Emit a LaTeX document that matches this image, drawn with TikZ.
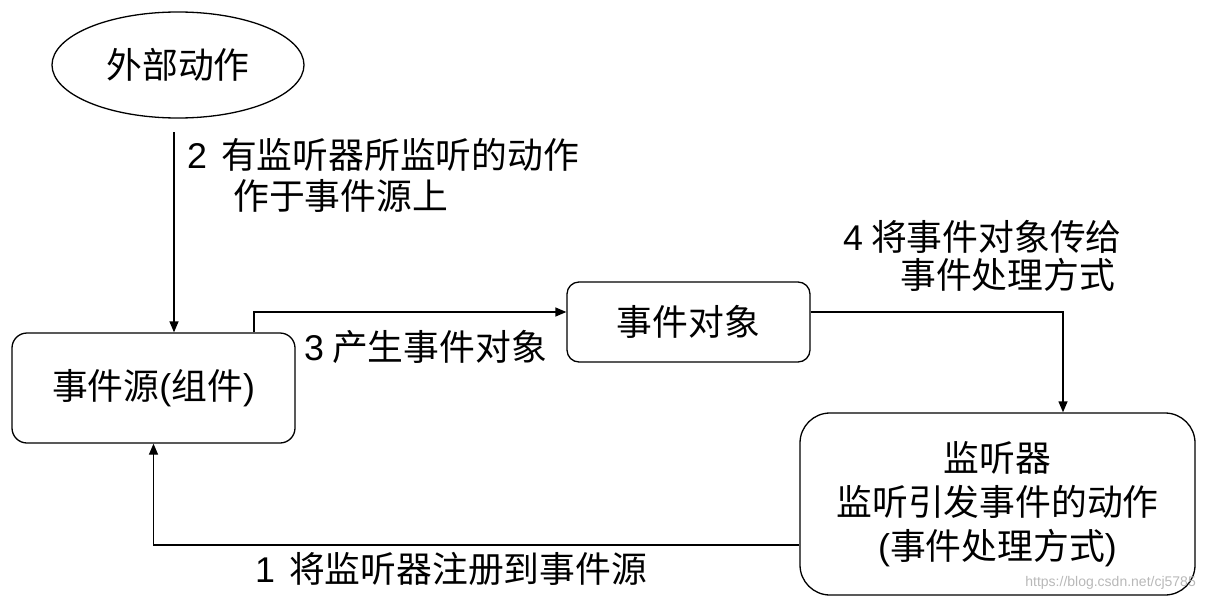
\documentclass[tikz,border=0pt]{standalone}
\usepackage{fontspec}
\setmainfont{Liberation Sans}
\newfontfamily\cjk{Noto Sans CJK SC}
\usetikzlibrary{shapes.geometric,arrows.meta,calc}
\begin{document}
\begin{tikzpicture}[x=1pt,y=-1pt,
  every node/.style={font=\cjk\fontsize{35.8}{44}\selectfont, inner sep=0pt},
  box/.style={draw, line width=1.3pt, rounded corners=#1, align=center},
  conn/.style={line width=1.3pt},
  arr/.style={conn, -{Triangle[length=11pt,width=9pt]}},
  lab/.style={anchor=west},
  wm/.style={font=\fontsize{14}{16}\selectfont, text=black!28}]
\useasboundingbox (0,0) rectangle (1206,605);
\node[draw, ellipse, line width=1.3pt, minimum width=252pt, minimum height=106pt] (ext) at (178,65) {外部动作};
\node[box=15pt, minimum width=283pt, minimum height=110pt] (src) at (153.5,388) {事件源{\rmfamily(}组件{\rmfamily)}};
\node[box=12pt, minimum width=243pt, minimum height=80pt] (obj) at (688.5,322) {事件对象};
\node[box=30pt, minimum width=395pt, minimum height=182pt] (lis) at (997.5,504) {监听器\\监听引发事件的动作\\{\rmfamily(}事件处理方式{\rmfamily)}};
\coordinate (a2) at (174,132);
\draw[arr] (a2) -- (a2 |- src.north);
\draw[arr] ($(src.north)+(100.5,0)$) |- ($(obj.west)+(0,-10)$);
\draw[arr] ($(obj.east)+(0,-10)$) -| ($(lis.north)+(65.5,0)$);
\draw[arr] ($(lis.west)+(0,41)$) -| (src.south);
\node[lab] (l2a) at (187,155) {{\rmfamily 2}\, 有监听器所监听的动作};
\node[lab] (l2b) at (233,196) {作于事件源上};
\node[lab] (l4a) at (843,237) {{\rmfamily 4} 将事件对象传给};
\node[lab] (l4b) at (900,275) {事件处理方式};
\node[lab] (l3) at (304,347) {{\rmfamily 3} 产生事件对象};
\node[lab] (l1) at (255,569) {{\rmfamily 1}\, 将监听器注册到事件源};
\node[wm, anchor=east] (w) at (1196,583) {https://blog.csdn.net/cj5785};
\end{tikzpicture}
\end{document}
